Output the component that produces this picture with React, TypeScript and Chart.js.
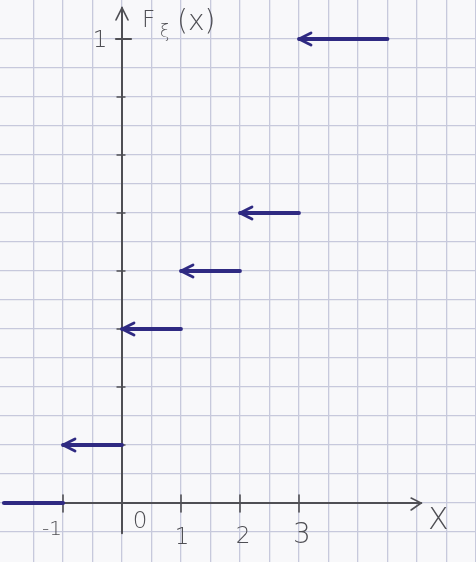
import React, { useEffect, useRef } from "react";
import { Chart, registerables } from "chart.js";

Chart.register(...registerables);

// Step function F(x) data
const stepStarts = [-2, -1, 0, 1, 2, 3];
const stepEnds = [-1, 0, 1, 2, 3, 4.5];
const stepValues = [0, 0.125, 0.375, 0.5, 0.625, 1];
const stepHasArrow = [false, true, true, true, true, true];

// axis tick marks and labels
const xTickValues = [-1, 1, 2, 3];
const xLabelValues = [-1, 0, 1, 2, 3];
const xLabelTexts = ["-1", "0", "1", "2", "3"];
const yTickValues = [0.125, 0.25, 0.375, 0.5, 0.625, 0.75, 0.875, 1];
const yLabelValues = [1];
const yLabelTexts = ["1"];
const yTitle = ["F", "ξ", "(x)"];
const xTitle = "X";

const X_MIN = -122 / 59;
const X_MAX = (476 - 122) / 59;
const Y_MIN = -59 / 464;
const Y_MAX = 503 / 464;

const INK = "#2f2a82";
const PENCIL = "#4f4f54";
const GRID = "#c7c9dc";

const labelOffsets = [
  { dx: -11, dy: 27, size: 20 },
  { dx: 18, dy: 19, size: 23 },
  { dx: 1, dy: 35, size: 23 },
  { dx: 3, dy: 34, size: 23 },
  { dx: 3, dy: 33, size: 28 },
];

const paperPlugin = {
  id: "paper",
  beforeDraw(chart: any) {
    const { ctx, width, height } = chart;
    ctx.save();
    ctx.fillStyle = "#f8f8fa";
    ctx.fillRect(0, 0, width, height);
    ctx.restore();
  },
};

const axesPlugin = {
  id: "handAxes",
  beforeDatasetsDraw(chart: any) {
    const { ctx } = chart;
    const xs = chart.scales.x;
    const ys = chart.scales.y;
    const x0 = xs.getPixelForValue(0);
    const y0 = ys.getPixelForValue(0);
    ctx.save();
    ctx.strokeStyle = PENCIL;
    ctx.lineWidth = 2;
    ctx.lineCap = "round";
    // y axis
    ctx.beginPath();
    ctx.moveTo(x0, ys.getPixelForValue(-0.065));
    ctx.lineTo(x0, ys.getPixelForValue(1.067));
    ctx.stroke();
    const yTop = ys.getPixelForValue(1.067);
    ctx.lineWidth = 1.6;
    ctx.beginPath();
    ctx.moveTo(x0 - 6, yTop + 12);
    ctx.lineTo(x0, yTop);
    ctx.lineTo(x0 + 6, yTop + 12);
    ctx.stroke();
    // x axis
    ctx.lineWidth = 2;
    ctx.beginPath();
    ctx.moveTo(xs.getPixelForValue(-2), y0);
    ctx.lineTo(xs.getPixelForValue(5.07), y0);
    ctx.stroke();
    const xRight = xs.getPixelForValue(5.07);
    ctx.lineWidth = 1.6;
    ctx.beginPath();
    ctx.moveTo(xRight - 10, y0 - 5);
    ctx.lineTo(xRight, y0);
    ctx.lineTo(xRight - 10, y0 + 7);
    ctx.stroke();
    // x ticks
    ctx.lineWidth = 1.6;
    xTickValues.forEach((v) => {
      const px = xs.getPixelForValue(v);
      ctx.beginPath();
      ctx.moveTo(px, y0 - 8);
      ctx.lineTo(px, y0 + 9);
      ctx.stroke();
    });
    // y ticks
    yTickValues.forEach((v) => {
      const py = ys.getPixelForValue(v);
      ctx.beginPath();
      if (v === 1) {
        ctx.lineWidth = 2.2;
        ctx.moveTo(x0 - 6, py);
        ctx.lineTo(x0 + 9, py);
      } else {
        ctx.lineWidth = 1.4;
        ctx.moveTo(x0 - 5, py);
        ctx.lineTo(x0 + 3, py);
      }
      ctx.stroke();
    });
    ctx.restore();
  },
  afterDatasetsDraw(chart: any) {
    const { ctx } = chart;
    ctx.save();
    ctx.strokeStyle = INK;
    ctx.lineWidth = 2.8;
    ctx.lineCap = "round";
    ctx.lineJoin = "round";
    chart.data.datasets.forEach((ds: any, i: number) => {
      if (!stepHasArrow[i]) return;
      const meta = chart.getDatasetMeta(i);
      const p = meta.data[0];
      if (!p) return;
      ctx.beginPath();
      ctx.moveTo(p.x + 12, p.y - 6);
      ctx.lineTo(p.x, p.y);
      ctx.lineTo(p.x + 12, p.y + 6);
      ctx.stroke();
    });
    ctx.restore();
  },
  afterDraw(chart: any) {
    const { ctx } = chart;
    const xs = chart.scales.x;
    const ys = chart.scales.y;
    const x0 = xs.getPixelForValue(0);
    const y0 = ys.getPixelForValue(0);
    ctx.save();
    ctx.fillStyle = PENCIL;
    ctx.textAlign = "center";
    ctx.textBaseline = "middle";
    xLabelValues.forEach((v, i) => {
      const o = labelOffsets[i];
      ctx.font = `300 ${o.size}px "DejaVu Sans", sans-serif`;
      ctx.fillText(xLabelTexts[i], xs.getPixelForValue(v) + o.dx, y0 + o.dy);
    });
    yLabelValues.forEach((v, i) => {
      ctx.font = `300 23px "DejaVu Sans", sans-serif`;
      ctx.fillText(yLabelTexts[i], x0 - 22, ys.getPixelForValue(v) + 2);
    });
    // y title F_ξ(x)
    const yTopPx = ys.getPixelForValue(1.067);
    ctx.textAlign = "left";
    ctx.font = `300 23px "DejaVu Sans", sans-serif`;
    ctx.fillText(yTitle[0], x0 + 20, yTopPx + 13);
    ctx.font = `300 17px "DejaVu Sans", sans-serif`;
    ctx.fillText(yTitle[1], x0 + 38, yTopPx + 25);
    ctx.font = `300 28px "DejaVu Sans", sans-serif`;
    ctx.fillText(yTitle[2], x0 + 55, yTopPx + 15);
    // x title
    ctx.textAlign = "center";
    ctx.font = `300 30px "DejaVu Sans", sans-serif`;
    ctx.fillText(xTitle, xs.getPixelForValue(5.36), y0 + 18);
    ctx.restore();
  },
};

function onlyMultiples(step: number) {
  return (scale: any) => {
    scale.ticks = scale.ticks.filter(
      (t: any) => Math.abs(t.value / step - Math.round(t.value / step)) < 1e-6
    );
  };
}

export default function App() {
  const canvasRef = useRef<HTMLCanvasElement | null>(null);

  useEffect(() => {
    if (!canvasRef.current) return;
    const datasets = stepStarts.map((s, i) => ({
      label: `F${i}`,
      data: [
        { x: s, y: stepValues[i] },
        { x: stepEnds[i], y: stepValues[i] },
      ],
      borderColor: INK,
      backgroundColor: INK,
      borderWidth: i === 0 ? 4.2 : 3.8,
      borderCapStyle: "round" as const,
      pointRadius: 0,
      tension: 0,
      fill: false,
    }));
    const chart = new Chart(canvasRef.current, {
      type: "line",
      data: { datasets },
      options: {
        animation: false,
        responsive: false,
        layout: { padding: 0, autoPadding: false },
        plugins: {
          legend: { display: false },
          tooltip: { enabled: false },
          title: { display: false },
        },
        scales: {
          x: {
            type: "linear",
            min: X_MIN,
            max: X_MAX,
            afterBuildTicks: onlyMultiples(0.5),
            ticks: { display: false, stepSize: 0.5, maxTicksLimit: 200 },
            grid: { color: GRID, lineWidth: 1.3, drawTicks: false },
            border: { display: false },
          },
          y: {
            type: "linear",
            min: Y_MIN,
            max: Y_MAX,
            afterBuildTicks: onlyMultiples(0.0625),
            ticks: { display: false, stepSize: 0.0625, maxTicksLimit: 200 },
            grid: { color: GRID, lineWidth: 1.3, drawTicks: false },
            border: { display: false },
          },
        },
      },
      plugins: [paperPlugin, axesPlugin],
    });
    return () => chart.destroy();
  }, []);

  return (
    <div style={{ position: "absolute", left: 0, top: 0, width: 476, height: 562 }}>
      <canvas ref={canvasRef} width={476} height={562} />
    </div>
  );
}
